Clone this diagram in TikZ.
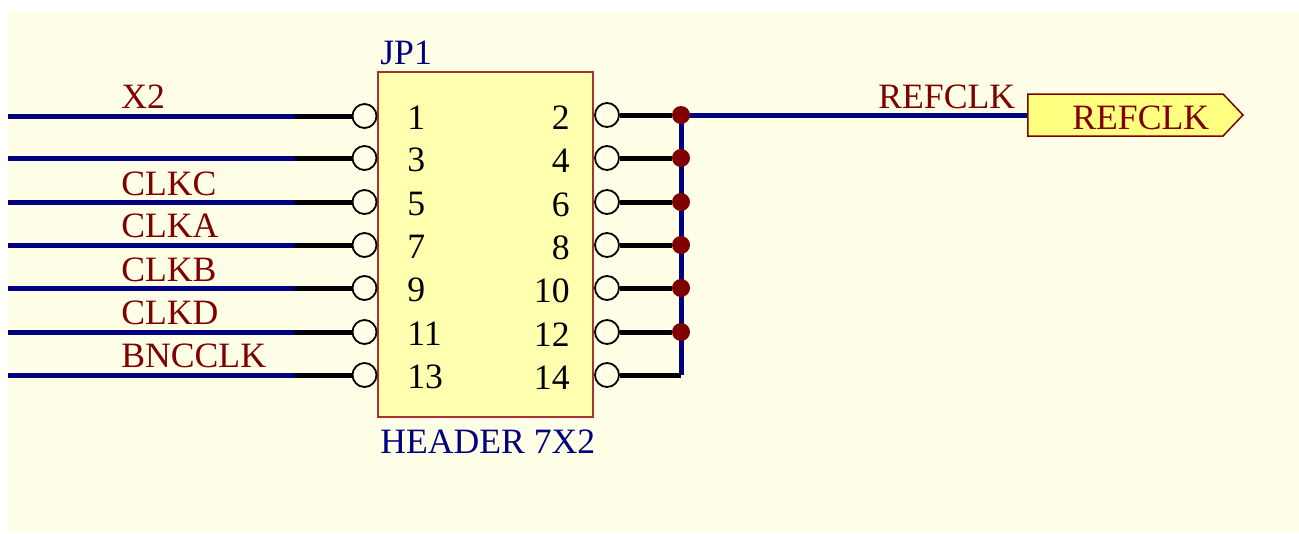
\documentclass[tikz,border=0pt]{standalone}
\usepackage{fontspec}
\setmainfont{Liberation Serif}
\usetikzlibrary{shapes.symbols}
\def\h{0.02cm}
\definecolor{sheetbg}{HTML}{FFFFE8}
\definecolor{partbg}{HTML}{FFFFB0}
\definecolor{portbg}{HTML}{FFFF80}
\definecolor{partedge}{HTML}{A83232}
\definecolor{wirecol}{HTML}{000080}
\definecolor{netcol}{HTML}{800000}
\tikzset{
	wire/.style={color=wirecol,line width=5*\h},
	stub/.style={color=black,line width=5*\h},
	pinhole/.style={circle,draw=black,fill=sheetbg,line width=1.8*\h,minimum size=24*\h,inner sep=0pt},
	junction/.style={circle,fill=netcol,minimum size=18*\h,inner sep=0pt},
	txt/.style={font=\fontsize{20.3}{24}\selectfont,inner sep=0pt},
	netname/.style={txt,color=netcol,anchor=base west},
	partname/.style={txt,color=wirecol,anchor=base west},
	oddnum/.style={txt,anchor=base west},
	evennum/.style={txt,anchor=base east},
}

\begin{document}
\begin{tikzpicture}[x=\h,y=-\h]
\useasboundingbox (0,0) rectangle (1299,534);
\fill[color=sheetbg] (8,12) rectangle (1299,532);
\node[draw=partedge,fill=partbg,line width=2*\h,minimum width=215*\h,minimum height=345*\h,inner sep=0pt] (jp) at (485.5,244.5) {};
\node[partname] (jpref) at (380,64) {JP1};
\node[partname] (jpval) at (380,453) {HEADER 7X2};
% left pins
\foreach \n/\y in {1/116,3/158,5/202,7/245,9/288,11/332,13/375}{
	\node[pinhole] (p\n) at (364.5,\y) {};
	\coordinate (a\n) at (8,\y);
	\coordinate (b\n) at (295,\y);
	\draw[wire] (a\n) -- (b\n);
	\draw[stub] (b\n) -- (p\n);
	\node[oddnum] (n\n) at (407,\y+13) {\n};
}
% right pins
\node[signal,signal to=east,signal pointer angle=93,draw=netcol,fill=portbg,line width=1.5*\h,minimum width=215*\h,minimum height=42*\h,inner sep=0pt] (refport) at (1125.5,115) {};
\coordinate (busend) at (681,375);
\foreach \n/\y in {2/115,4/158,6/202,8/245,10/288,12/332,14/375}{
	\node[pinhole] (p\n) at (607,\y) {};
}
\draw[wire] (681,115) -- (refport.west);
\draw[wire] (681,115) -- (busend);
\foreach \n/\y in {2/115,4/158,6/202,8/245,10/288,12/332}{
	\node[junction] (j\n) at (681,\y) {};
	\draw[stub] (p\n) -- (j\n);
}
\draw[stub] (p14) -- (busend);
\foreach \n/\y in {2/115,4/158,6/202,8/245,10/288,12/332,14/375}{
	\node[evennum] (n\n) at (570,\y+14) {\n};
}
% net names
\foreach \t/\y in {X2/108,CLKC/195,CLKA/237,CLKB/281,CLKD/324,BNCCLK/367}{
	\node[netname] (net\t) at (121,\y) {\t};
}
\node[netname] (netref) at (878,108) {REFCLK};
\node[netname] (portref) at (1072,129) {REFCLK};
\end{tikzpicture}
\end{document}
